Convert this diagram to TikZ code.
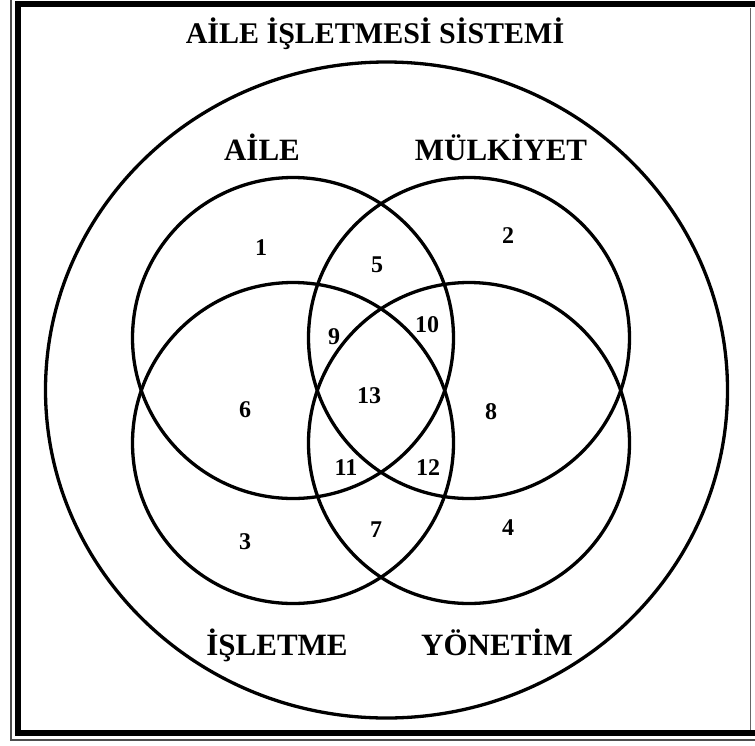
\documentclass[tikz,border=0pt]{standalone}
\usepackage{fontspec}
\setmainfont{Liberation Serif}
\usetikzlibrary{positioning}

\begin{document}
\begin{tikzpicture}[
    x=1pt, y=-1pt,
    venn/.style={circle, draw, line width=3.3pt, minimum size=321pt, inner sep=0pt},
    setname/.style={font=\bfseries\fontsize{31}{36}\selectfont, inner sep=0pt, anchor=base},
    title/.style={font=\bfseries\fontsize{30}{36}\selectfont, inner sep=0pt, anchor=base},
    region/.style={font=\bfseries\fontsize{24}{28}\selectfont, inner sep=0pt}
]
\useasboundingbox (0,0) rectangle (755,745);
\clip (0,0) rectangle (755,745);

% page border
\draw[line width=6.5pt] (18,4) rectangle (770,733);
\draw[line width=2pt, black!70] (11,-5) -- (11,740) -- (770,740);
\draw[line width=1.5pt, black!60] (750.5,8) -- (750.5,730);

% outer system
\draw[line width=3.3pt] (386.5,390) ellipse [x radius=341, y radius=328];
\node[title] (system) at (375,43) {AİLE İŞLETMESİ SİSTEMİ};

% four sets
\node[venn] (aile) at (293,338) {};
\node[venn] (mulk) at (469,338) {};
\node[venn] (islt) at (293,443) {};
\node[venn] (yont) at (469,443) {};

\node[setname] (aileL) at (262,160) {AİLE};
\node[setname] (mulkL) at (501,160) {MÜLKİYET};
\node[setname] (isltL) at (277,655) {İŞLETME};
\node[setname] (yontL) at (497,655) {YÖNETİM};

% region numbers
\foreach \n/\px/\py in {1/261/248, 2/508/236, 5/377/265, 9/334/337, 10/427/325,
    6/245/410, 13/369/396, 8/491/412, 11/346/468, 12/428/468,
    3/245/542, 7/376/530, 4/508/528}
    \node[region] (r\n) at (\px,\py) {\n};

\end{tikzpicture}
\end{document}
